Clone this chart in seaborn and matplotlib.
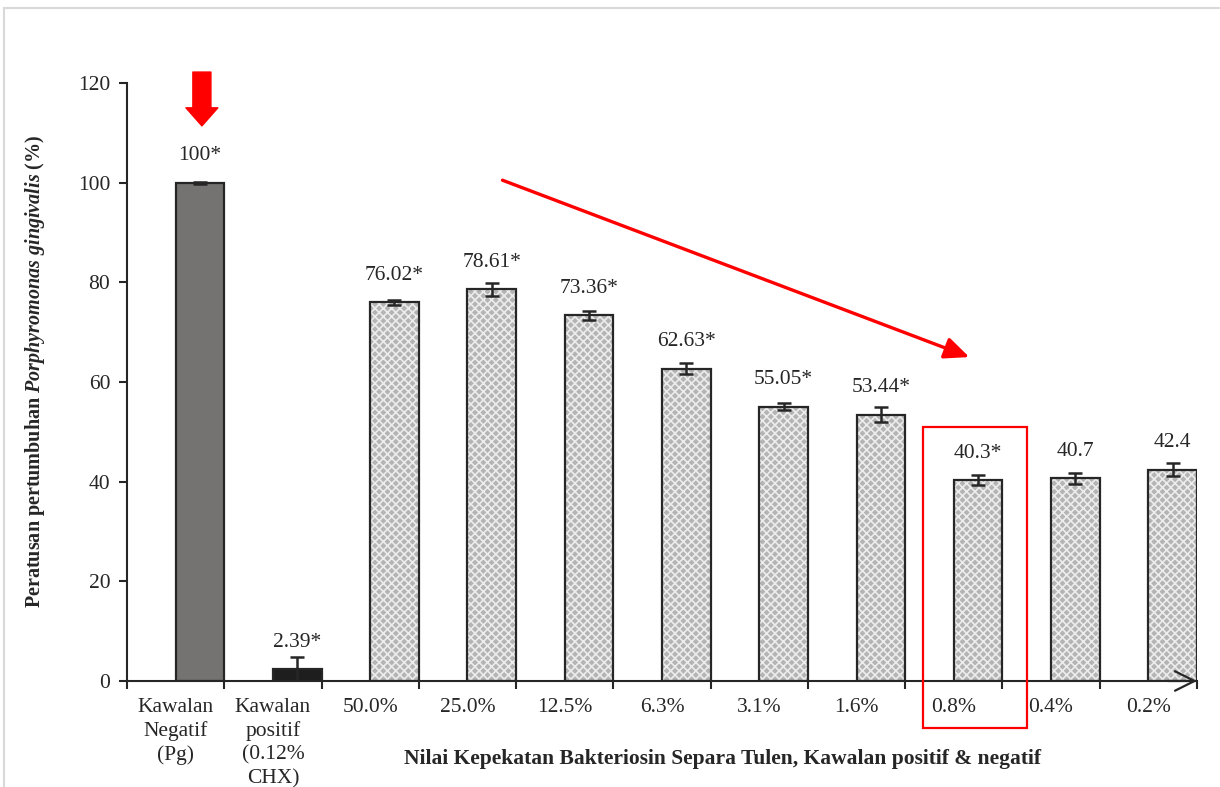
import numpy as np
import pandas as pd
import matplotlib
matplotlib.use("Agg")
import matplotlib.pyplot as plt
from matplotlib.patches import Rectangle
import seaborn as sns

# Data
kategori = ["Kawalan\nNegatif\n(Pg)", "Kawalan\npositif\n(0.12%\nCHX)", "50.0%", "25.0%",
            "12.5%", "6.3%", "3.1%", "1.6%", "0.8%", "0.4%", "0.2%"]
nilai = [100, 2.39, 76.02, 78.61, 73.36, 62.63, 55.05, 53.44, 40.3, 40.7, 42.4]
ralat = [0.2, 2.4, 0.5, 1.3, 0.9, 1.1, 0.7, 1.5, 1.0, 1.1, 1.3]
label_nilai = ["100*", "2.39*", "76.02*", "78.61*", "73.36*", "62.63*", "55.05*",
               "53.44*", "40.3*", "40.7", "42.4"]
warna = ["#767171", "#1e1e1e"] + ["#b4b4b4"] * 9
y_ticks = [0, 20, 40, 60, 80, 100, 120]

sns.set_style("white")
plt.rcParams["font.family"] = ["Liberation Serif", "DejaVu Serif"]
plt.rcParams["mathtext.fontset"] = "custom"
plt.rcParams["mathtext.rm"] = "Liberation Serif"
plt.rcParams["mathtext.it"] = "Liberation Serif:italic"
plt.rcParams["mathtext.bf"] = "Liberation Serif:bold"
plt.rcParams["mathtext.bfit"] = "Liberation Serif:italic:bold"
plt.rcParams["hatch.linewidth"] = 1.2

df = pd.DataFrame({"kategori": kategori, "nilai": nilai})
teks = "#262626"

fig = plt.figure(figsize=(12.2, 7.87), dpi=100)
ax = fig.add_axes([0.1041, 0.1347, 0.8770, 0.7598])

# isian bar (corak untuk kepekatan bakteriosin)
sns.barplot(data=df, x="kategori", y="nilai", hue="kategori", order=kategori,
            palette=dict(zip(kategori, warna)), legend=False, width=0.5,
            linewidth=0, errorbar=None, ax=ax)
isian = list(ax.patches)
for p in isian[2:]:
    p.set_hatch("xxxx")
    p.set_edgecolor("#ececec")
    p.set_linewidth(0)

# garis luar bar
sns.barplot(data=df, x="kategori", y="nilai", order=kategori, fill=False,
            color=teks, width=0.5, linewidth=1.6, errorbar=None, ax=ax)

# bar berada di separuh kanan setiap kategori
for p in ax.patches:
    p.set_x(p.get_x() + 0.25)

pos = np.arange(len(kategori)) + 0.25
ax.errorbar(pos, nilai, yerr=ralat, fmt="none", ecolor=teks, elinewidth=1.8,
            capsize=5, capthick=1.8, zorder=5)

for x, v, t in zip(pos, nilai, label_nilai):
    ax.annotate(t, (x, v), xytext=(0, 27), textcoords="offset pixels",
                ha="center", va="center", fontsize=15.5, color=teks)

# paksi
ax.set_xlim(-0.5, len(kategori) - 0.5)
ax.set_ylim(0, 120)
ax.set_yticks(y_ticks)
ax.set_xticks(np.arange(len(kategori)))
ax.set_xticklabels(kategori, fontsize=15.5, color=teks, va="top", linespacing=1.3)
ax.set_xticks(np.arange(len(kategori) + 1) - 0.5, minor=True)
ax.tick_params(axis="x", which="major", length=0, pad=12)
ax.tick_params(axis="x", which="minor", length=6, width=1.5, color=teks, direction="out")
ax.tick_params(axis="y", length=6, width=1.5, color=teks, direction="out",
               labelsize=15.5, labelcolor=teks, pad=6)
ax.tick_params(left=True, bottom=True, which="both")
for s in ["top", "right"]:
    ax.spines[s].set_visible(False)
for s in ["left", "bottom"]:
    ax.spines[s].set_color(teks)
    ax.spines[s].set_linewidth(1.5)

ax.annotate("", xy=(len(kategori) - 0.5, 0), xytext=(len(kategori) - 0.8, 0),
            arrowprops=dict(arrowstyle="->,head_length=0.7,head_width=0.35", lw=1.6,
                            color=teks, shrinkA=0, shrinkB=0, mutation_scale=20),
            annotation_clip=False)

ax.set_xlabel("Nilai Kepekatan Bakteriosin Separa Tulen, Kawalan positif & negatif",
              fontsize=15.5, fontweight="bold", color=teks)
ax.xaxis.set_label_coords(0.557, -0.113)
ax.set_ylabel(r"$\mathbf{Peratusan\ pertumbuhan\ }\mathbfit{Porphyromonas\ gingivalis}\mathbf{\ (\%)}$",
              fontsize=14.5, color=teks)
ax.yaxis.set_label_coords(-0.075, 0.518)

# anotasi merah
ax.annotate("", xy=(0.27, 111.4), xytext=(0.27, 122.2),
            arrowprops=dict(arrowstyle="simple,head_length=0.65,head_width=1.15,tail_width=0.65",
                            color="red", shrinkA=0, shrinkB=0, mutation_scale=20),
            annotation_clip=False)
ax.annotate("", xy=(8.16, 65), xytext=(3.36, 100.5),
            arrowprops=dict(arrowstyle="-|>,head_length=0.5,head_width=0.22", lw=2.4,
                            color="red", shrinkA=0, shrinkB=0, mutation_scale=30))
ax.add_patch(Rectangle((7.68, -9.4), 1.07, 60.4, fill=False, edgecolor="red",
                       linewidth=1.6, clip_on=False, zorder=6))

# bingkai luar
fig.patches.append(Rectangle((4 / 1220, -0.1), 1.2, 1.1 - 8 / 787, transform=fig.transFigure,
                             fill=False, edgecolor="#d9d9d9", linewidth=1.5))

fig.savefig("out.png", dpi=100)
